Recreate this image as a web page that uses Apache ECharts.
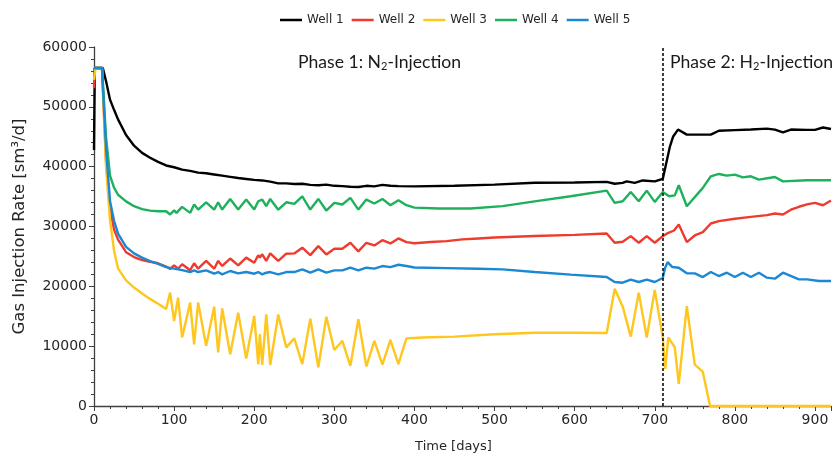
<!DOCTYPE html>
<html>
<head>
<meta charset="utf-8">
<script src="https://cdn.jsdelivr.net/npm/echarts@6/dist/echarts.min.js"></script>
<style>
  *{ margin:0; padding:0; }
  body{ background:#ffffff; }
  #main{ width:835px; height:458px; }
</style>
</head>
<body>
<div id="main"></div>
<script>
  // series data: [day, rate sm3/d]
  const wellNames = ['Well 1', 'Well 2', 'Well 3', 'Well 4', 'Well 5'];
  const wellColors = ['#000000', '#EF3B2D', '#FFC61E', '#1EB15C', '#1B88D3'];

  const well1 = [[0,42800],[1,56500],[11,56500],[15,54300],[20,51200],[25,49500],[30,47900],[40,45300],[50,43500],[60,42300],[70,41500],[80,40800],[90,40200],[100,39900],[110,39500],[120,39300],[130,39000],[140,38900],[150,38700],[160,38500],[170,38300],[180,38100],[190,37950],[200,37800],[210,37700],[220,37500],[230,37200],[240,37200],[250,37100],[260,37150],[270,36950],[280,36900],[290,37000],[300,36800],[310,36750],[320,36650],[330,36600],[340,36800],[350,36700],[360,36950],[370,36800],[380,36750],[400,36700],[450,36800],[500,37000],[550,37300],[600,37350],[640,37450],[650,37150],[660,37300],[665,37550],[675,37300],[685,37700],[700,37550],[710,37950],[719,43400],[723,45050],[729,46200],[740,45350],[770,45350],[780,46000],[800,46100],[820,46200],[840,46350],[850,46200],[860,45750],[870,46200],[890,46150],[900,46150],[910,46550],[920,46300]];

  const well2 = [[0,53100],[1,56500],[10,56500],[15,41000],[20,33200],[25,29500],[30,27800],[40,25700],[50,24900],[60,24400],[70,24100],[80,23850],[90,23300],[95,22900],[100,23500],[105,22950],[110,23700],[120,22700],[125,23850],[130,22950],[140,24250],[150,22950],[155,24250],[160,23400],[170,24650],[180,23500],[190,24800],[200,23950],[205,25200],[207,24800],[210,25350],[215,24250],[220,25500],[230,24250],[240,25450],[250,25500],[260,26450],[270,25220],[280,26720],[290,25330],[300,26280],[310,26280],[320,27280],[330,25840],[340,27280],[350,26840],[360,27720],[370,27170],[380,28000],[390,27390],[400,27200],[420,27400],[440,27550],[460,27850],[480,28000],[500,28150],[550,28400],[600,28600],[640,28830],[650,27280],[660,27450],[670,28390],[680,27280],[690,28390],[700,27280],[710,28390],[717,28950],[724,29330],[730,30330],[740,27390],[750,28500],[760,29050],[770,30500],[780,30900],[800,31300],[820,31600],[840,31900],[850,32170],[860,32000],[870,32800],[880,33300],[890,33700],[900,33950],[910,33550],[920,34350]];

  const well3 = [[0,54500],[2,56500],[10,56500],[15,40000],[20,31000],[25,26000],[30,23000],[40,21000],[50,19800],[60,18800],[70,17900],[80,17100],[90,16200],[95,18950],[100,14200],[105,18100],[110,11450],[120,17300],[125,10300],[130,17300],[140,10050],[150,16600],[155,8950],[160,16300],[170,8650],[180,15600],[190,7950],[200,15050],[205,7000],[207,12000],[210,6850],[215,15300],[220,6850],[230,15300],[240,9800],[250,11300],[260,7000],[270,14600],[280,6450],[290,14900],[300,9350],[310,10900],[320,6700],[330,14500],[340,6600],[350,10900],[360,6900],[370,11050],[380,7000],[390,11300],[410,11450],[450,11600],[500,12000],[550,12250],[600,12250],[640,12200],[650,19600],[660,16600],[670,11600],[680,18950],[690,11450],[700,19400],[710,11450],[713,6200],[717,11450],[725,9800],[730,3700],[740,16700],[750,6900],[760,5700],[769,0],[920,0]];

  const well4 = [[0,56500],[10,56500],[15,45000],[20,38500],[25,36500],[30,35300],[40,34200],[50,33400],[60,32900],[70,32650],[80,32550],[90,32550],[95,32000],[100,32700],[103,32280],[110,33280],[120,32280],[125,33670],[130,32830],[140,34050],[150,32830],[155,34050],[160,32830],[170,34610],[180,32830],[190,34500],[200,32830],[205,34220],[207,34050],[210,34500],[215,33390],[220,34610],[230,32800],[240,34050],[250,33780],[260,35050],[270,32830],[280,34610],[290,32670],[300,33950],[310,33670],[320,34780],[330,32830],[340,34500],[350,33840],[360,34610],[370,33560],[380,34390],[390,33560],[400,33150],[430,33000],[470,33000],[510,33400],[550,34200],[595,35050],[640,36000],[650,33950],[660,34220],[670,35780],[680,34220],[690,36000],[700,34110],[710,35780],[718,35050],[725,35200],[730,36890],[740,33390],[760,36450],[770,38390],[780,38780],[790,38500],[800,38670],[810,38220],[820,38390],[830,37830],[850,38280],[860,37550],[890,37720],[920,37720]];

  const well5 = [[0,56500],[10,56500],[15,43000],[20,34200],[25,31000],[30,28800],[40,26600],[50,25500],[60,24800],[70,24200],[80,23750],[90,23200],[100,22950],[110,22720],[120,22390],[125,22670],[130,22390],[140,22670],[150,22110],[155,22390],[160,22000],[170,22560],[180,22170],[190,22390],[200,22110],[205,22390],[210,22000],[215,22280],[220,22390],[230,22000],[240,22390],[250,22390],[260,22830],[270,22280],[280,22830],[290,22280],[300,22670],[310,22670],[320,23110],[330,22670],[340,23110],[350,22950],[360,23390],[370,23220],[380,23610],[390,23390],[400,23150],[440,23050],[480,22950],[510,22830],[550,22390],[595,21950],[640,21560],[650,20720],[660,20610],[670,21110],[680,20720],[690,21110],[700,20720],[710,21390],[713,23110],[716,24050],[722,23220],[730,23110],[740,22170],[750,22170],[760,21550],[770,22390],[780,21720],[790,22280],[800,21550],[810,22280],[820,21550],[830,22280],[840,21450],[850,21280],[860,22280],[880,21170],[890,21170],[905,20890],[920,20890]];

  const phaseSwitchDay = 710;
  const xTicks = { min: 0, max: 920, interval: 100 };
  const yTicks = { min: 0, max: 60000, interval: 10000 };

  const chart = echarts.init(document.getElementById('main'));
  const axisColor = '#404040';
  const labelFont = 'DejaVu Sans';

  const wells = [well1, well2, well3, well4, well5];
  const series = wells.map(function (d, i) {
    const s = {
      name: wellNames[i],
      type: 'line',
      data: d,
      symbol: 'none',
      showSymbol: false,
      color: wellColors[i],
      lineStyle: { width: 2.4, color: wellColors[i] }
    };
    if (i === 0) {
      // dashed line between the two injection phases
      s.markLine = {
        silent: true,
        symbol: ['none', 'none'],
        label: { show: false },
        lineStyle: { color: '#000', type: [3, 2], width: 1.5 },
        data: [{ xAxis: phaseSwitchDay }]
      };
    }
    return s;
  });

  chart.setOption({
    animation: false,
    backgroundColor: '#ffffff',
    grid: { left: 94, right: 4, top: 47, bottom: 51 },
    legend: {
      data: wellNames,
      left: 275,
      top: 9,
      icon: 'rect',
      itemWidth: 22,
      itemHeight: 2.5,
      itemGap: 8,
      textStyle: { fontFamily: labelFont, fontSize: 12, color: '#262626' }
    },
    xAxis: {
      type: 'value',
      min: xTicks.min,
      max: xTicks.max,
      interval: xTicks.interval,
      name: 'Time [days]',
      nameLocation: 'middle',
      nameGap: 34,
      nameTextStyle: { fontFamily: labelFont, fontSize: 13, color: '#262626', padding: [0, 18, 0, 0] },
      axisLine: { lineStyle: { color: axisColor, width: 1.3 } },
      axisTick: { length: 5, lineStyle: { color: axisColor } },
      minorTick: { show: true, splitNumber: 5, length: 3, lineStyle: { color: axisColor } },
      splitLine: { show: false },
      axisLabel: {
        fontFamily: labelFont, fontSize: 14, color: '#262626', margin: 7,
        formatter: function (v) { return v % 100 === 0 ? String(v) : ''; }
      }
    },
    yAxis: {
      type: 'value',
      min: yTicks.min,
      max: yTicks.max,
      interval: yTicks.interval,
      name: 'Gas Injection Rate [sm³/d]',
      nameLocation: 'middle',
      nameGap: 66,
      nameTextStyle: { fontFamily: labelFont, fontSize: 16.5, color: '#262626' },
      axisLine: { show: true, lineStyle: { color: axisColor, width: 1.3 } },
      axisTick: { show: true, length: 5, lineStyle: { color: axisColor } },
      minorTick: { show: true, splitNumber: 5, length: 3, lineStyle: { color: axisColor } },
      splitLine: { show: false },
      axisLabel: {
        fontFamily: labelFont, fontSize: 14, color: '#262626', margin: 7,
        formatter: function (v) { return String(v); }
      }
    },
    graphic: [
      {
        type: 'text', left: 298, top: 53,
        style: {
          text: 'Phase 1: N{s|2}-Injection',
          font: '17.6px Lato', fill: '#1a1a1a',
          rich: { s: { fontSize: 11, fontFamily: 'Lato', padding: [9, 0, 0, 0] } }
        }
      },
      {
        type: 'text', left: 670, top: 53,
        style: {
          text: 'Phase 2: H{s|2}-Injection',
          font: '17.6px Lato', fill: '#1a1a1a',
          rich: { s: { fontSize: 11, fontFamily: 'Lato', padding: [9, 0, 0, 0] } }
        }
      }
    ],
    series: series
  });
</script>
</body>
</html>
